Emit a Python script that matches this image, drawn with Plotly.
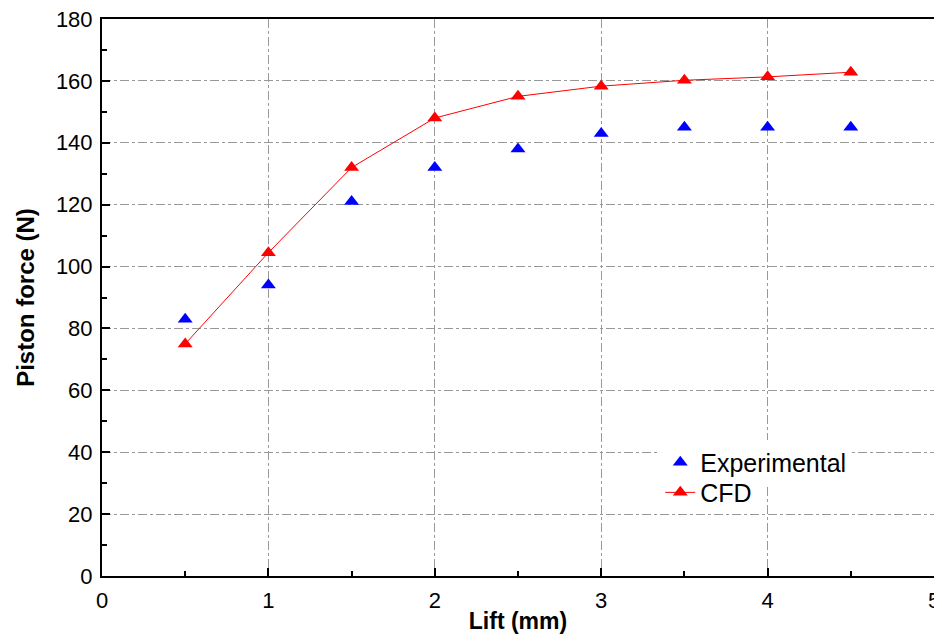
import plotly.graph_objects as go

# Data
lift = [0.5, 1, 1.5, 2, 2.5, 3, 3.5, 4, 4.5]
experimental = [83, 94, 121, 132, 138, 143, 145, 145, 145]
cfd = [75, 104.5, 132, 148, 155, 158.3, 160.2, 161.3, 162.8]

fig = go.Figure()

fig.add_trace(go.Scatter(
    x=lift, y=experimental,
    mode='markers',
    name='Experimental',
    marker=dict(symbol='triangle-up', color='#0000FF', size=13),
    legend='legend',
))

fig.add_trace(go.Scatter(
    x=lift, y=cfd,
    mode='lines+markers',
    name='CFD',
    line=dict(color='#FF0000', width=1),
    marker=dict(symbol='triangle-up', color='#FF0000', size=13),
    legend='legend2',
))

axis_common = dict(
    showline=True, linecolor='black', linewidth=2, mirror=True,
    ticks='inside', ticklen=8, tickwidth=2, tickcolor='black',
    showgrid=True, gridcolor='#999999', griddash='dashdot', gridwidth=1,
    zeroline=False, automargin=False, ticklabeloverflow='allow',
    tickfont=dict(size=22, color='black'),
)

fig.update_xaxes(
    range=[0, 5], dtick=1, ticklabelstandoff=4,
    minor=dict(dtick=0.5, ticks='inside', ticklen=5, tickwidth=2, tickcolor='black', showgrid=False),
    title=dict(text='<b>Lift (mm)</b>', font=dict(size=23, color='black'), standoff=6),
    **axis_common,
)
fig.update_yaxes(
    range=[0, 180], dtick=20, ticklabelstandoff=3,
    minor=dict(dtick=10, ticks='inside', ticklen=5, tickwidth=2, tickcolor='black', showgrid=False),
    title=dict(text='<b>Piston force (N)</b>', font=dict(size=24, color='black'), standoff=14),
    **axis_common,
)

# page body has an 8px margin, so the figure is shrunk to fit the window
legend_style = dict(xanchor='left', yanchor='top',
                    font=dict(size=25, color='black'), visible=True)
fig.update_layout(
    width=934, height=626,
    margin=dict(l=94, r=8, t=11, b=58),
    plot_bgcolor='white', paper_bgcolor='white',
    font=dict(family='Liberation Sans, Arial, sans-serif', color='black'),
    showlegend=True,
    legend=dict(x=0.671, y=0.245, bgcolor='white', **legend_style),
    legend2=dict(x=0.671, y=0.191, bgcolor='rgba(0,0,0,0)', **legend_style),
)

fig.write_html("out.html")
